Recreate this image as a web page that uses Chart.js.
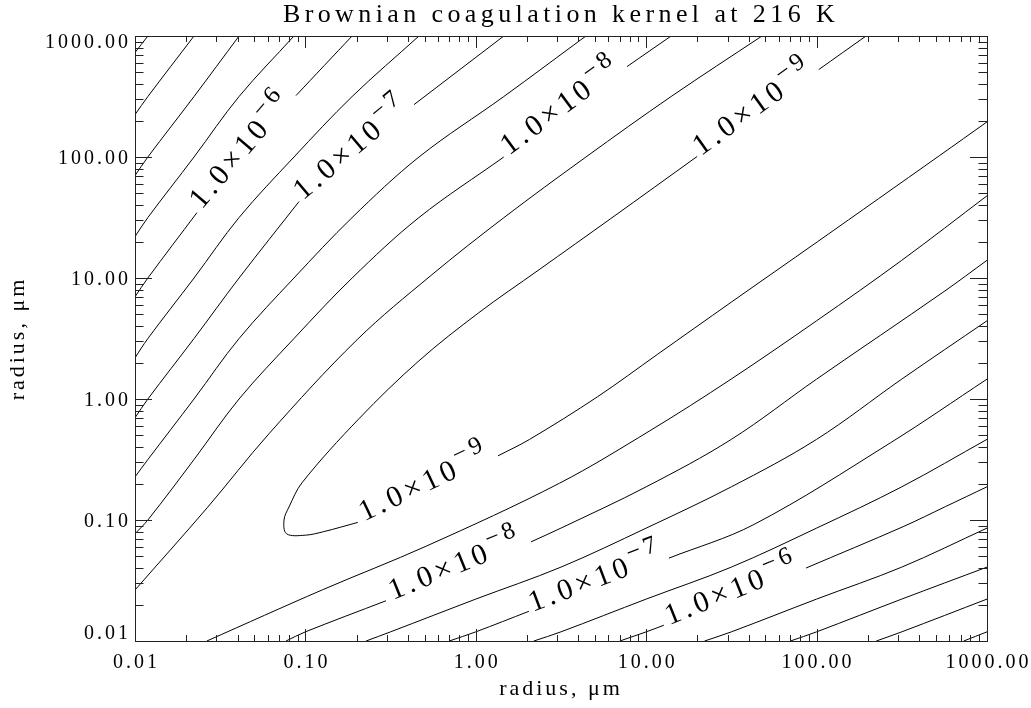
<!DOCTYPE html>
<html>
<head>
<meta charset="utf-8">
<title>Brownian coagulation kernel</title>
<script src="https://cdn.jsdelivr.net/npm/chart.js@4.4.1/dist/chart.umd.min.js"></script>
<style>
  html, body { margin: 0; padding: 0; background: #fff; }
  canvas { display: block; }
</style>
</head>
<body>
<canvas id="kernel-chart" width="1031" height="708"></canvas>
<script>
// radius ticks, same on both axes (µm)
const tickValues = [0.01, 0.1, 1, 10, 100, 1000];

// contours above the diagonal: [radius 1, radius 2] in µm, corner first
// null marks the break where the level label sits
const upper1 = [[0.01, 730], [0.0119, 1000]];
const upper2 = [[0.01, 224], [0.0119, 316], [0.0222, 1000]];
const upper3 = [[0.01, 70.2], [0.0119, 100], [0.0222, 316], [0.0408, 1000]];
const upper4 = [[0.01, 22.0], [0.0119, 31.6], [0.0222, 100], [0.0408, 316], [0.0857, 1000]];
const upper5 = [[0.01, 7.0], [0.0119, 10], [0.0231, 34.7], null, [0.0881, 322], [0.129, 570], [0.188, 1000]];
const upper6 = [[0.01, 2.19], [0.0119, 3.16], [0.0222, 10], [0.0408, 31.6], [0.0857, 100], [0.188, 316], [0.464, 1000]];
const upper7 = [[0.01, 0.699], [0.0119, 1.0], [0.0222, 3.16], [0.0408, 10], [0.0917, 42.8], null, [0.434, 271], [1.46, 1000]];
const upper8 = [[0.01, 0.227], [0.0119, 0.316], [0.0222, 1.0], [0.0408, 3.16], [0.0857, 10], [0.188, 31.6], [0.464, 100], [1.46, 316], [4.43, 1000]];
const upper9 = [[0.01, 0.077], [0.0119, 0.1], [0.0222, 0.316], [0.0408, 1.0], [0.0857, 3.16], [0.188, 10], [0.464, 31.6], [1.46, 100], null, [7.72, 559], [14.0, 1000]];
const upper10 = [[0.01, 0.0264], [0.0265, 0.126], [0.0611, 0.516], [0.201, 3.09], [0.546, 10.5], [1.46, 31.5], [4.43, 100], [14.0, 316], [47.8, 1000]];

// contours below the diagonal
const lower1 = [[730, 0.01], [1000, 0.0119]];
const lower2 = [[224, 0.01], [316, 0.0119], [1000, 0.0222]];
const lower3 = [[70.2, 0.01], [100, 0.0119], [316, 0.0222], [1000, 0.0408]];
const lower4 = [[22.0, 0.01], [31.6, 0.0119], [100, 0.0222], [316, 0.0408], [1000, 0.0857]];
const lower5 = [[7.0, 0.01], [10, 0.0119], [12.7, 0.0135], null, [86.7, 0.0401], [322, 0.0881], [570, 0.129], [1000, 0.188]];
const lower6 = [[2.19, 0.01], [3.16, 0.0119], [10, 0.0222], [31.6, 0.0408], [100, 0.0857], [316, 0.188], [1000, 0.464]];
const lower7 = [[0.699, 0.01], [1.0, 0.0119], [2.05, 0.0176], null, [13.6, 0.0484], [42.8, 0.0917], [271, 0.434], [1000, 1.46]];
const lower8 = [[0.227, 0.01], [0.316, 0.0119], [1.0, 0.0222], [3.16, 0.0408], [10, 0.0857], [31.6, 0.188], [100, 0.464], [316, 1.46], [1000, 4.43]];
const lower9 = [[0.077, 0.01], [0.1, 0.0119], [0.297, 0.0215], null, [2.11, 0.066], [3.16, 0.0857], [10, 0.188], [31.6, 0.464], [100, 1.46], [559, 7.72], [1000, 14.0]];
const lower10 = [[0.0264, 0.01], [0.126, 0.0265], [0.516, 0.0611], [3.09, 0.201], [10.5, 0.546], [31.5, 1.46], [100, 4.43], [316, 14.0], [1000, 47.8]];

// the lowest level closes round the diagonal near 0.08 µm
const ring9 = [[195, 1000], [103, 528], null, [19.9, 101], [6.30, 31.5], [2.35, 11.7], [1.04, 5.16],
  [0.464, 2.07], [0.206, 0.686], [0.0955, 0.203], [0.0801, 0.128], [0.0749, 0.100], [0.0775, 0.0770],
  [0.100, 0.0749], [0.128, 0.0801], [0.203, 0.0955], null, [1.35, 0.339], [2.07, 0.464], [5.16, 1.04],
  [11.7, 2.35], [31.5, 6.30], [101, 19.9], [528, 103], [1000, 195]];

// which contours carry a label, and the exponent printed on them
const labelled = [
  [upper5, '6'], [upper7, '7'], [upper9, '8'],
  [lower5, '6'], [lower7, '7'], [lower9, '8'],
  [ring9, '9']
];
const plain = [upper1, upper2, upper3, upper4, upper6, upper8, upper10,
  lower1, lower2, lower3, lower4, lower6, lower8, lower10];

const serif = 'Liberation Serif';
const datasets = [];
const labels = [];

function addContour(line, exp) {
  const segs = [[]];
  line.forEach(p => {
    if (p) segs[segs.length - 1].push({ x: p[0], y: p[1] });
    else segs.push([]);
  });
  segs.forEach(s => datasets.push({
    data: s,
    showLine: true,
    borderColor: '#000',
    borderWidth: 1,
    pointRadius: 0,
    tension: 0.35
  }));
  if (exp) {
    for (let i = 0; i < segs.length - 1; i++) {
      labels.push({ from: segs[i][segs[i].length - 1], to: segs[i + 1][0], exp: exp });
    }
  }
}

plain.forEach(l => addContour(l));
labelled.forEach(([l, e]) => addContour(l, e));

function fmt(v) {
  return Number(v).toFixed(2);
}

// box, inward tick marks, tick labels, contour labels and the title
const decorations = {
  id: 'decorations',
  afterInit(chart) {
    chart.ctx.letterSpacing = '3px';
  },
  afterDatasetsDraw(chart) {
    const { ctx, chartArea: a, scales } = chart;
    const xs = scales.x, ys = scales.y;
    ctx.save();
    ctx.strokeStyle = '#222';
    ctx.lineWidth = 1;
    ctx.strokeRect(a.left + 0.5, a.top + 0.5, a.right - a.left, a.bottom - a.top);

    ctx.beginPath();
    tickValues.forEach(t => {
      for (let s = 1; s < 10; s++) {
        const v = t * s;
        if (v > tickValues[tickValues.length - 1] * 1.0001) break;
        const major = s === 1;
        const px = Math.round(xs.getPixelForValue(v)) + 0.5;
        const py = Math.round(ys.getPixelForValue(v)) + 0.5;
        const lx = major ? 12 : 6;
        const ly = major ? 17 : 8.5;
        ctx.moveTo(px, a.bottom); ctx.lineTo(px, a.bottom - lx);
        ctx.moveTo(px, a.top); ctx.lineTo(px, a.top + lx);
        ctx.moveTo(a.left, py); ctx.lineTo(a.left + ly, py);
        ctx.moveTo(a.right, py); ctx.lineTo(a.right - ly, py);
      }
    });
    ctx.stroke();

    // tick labels: bottom ones centred, left ones kept inside the axis span
    ctx.fillStyle = '#000';
    ctx.letterSpacing = '3px';
    ctx.font = '20px "' + serif + '"';
    ctx.textBaseline = 'middle';
    ctx.textAlign = 'center';
    tickValues.forEach(v => {
      ctx.fillText(fmt(v), xs.getPixelForValue(v) + 1.5, a.bottom + 22);
    });
    ctx.textAlign = 'right';
    tickValues.forEach(v => {
      const py = Math.min(Math.max(ys.getPixelForValue(v) + 2, a.top + 7), a.bottom - 7);
      ctx.fillText(fmt(v), a.left - 4, py);
    });

    labels.forEach(lb => {
      const x0 = xs.getPixelForValue(lb.from.x), y0 = ys.getPixelForValue(lb.from.y);
      const x1 = xs.getPixelForValue(lb.to.x), y1 = ys.getPixelForValue(lb.to.y);
      let ang = Math.atan2(y1 - y0, x1 - x0);
      if (Math.cos(ang) < 0) ang += Math.PI;
      ctx.save();
      ctx.translate((x0 + x1) / 2, (y0 + y1) / 2);
      ctx.rotate(ang);
      ctx.letterSpacing = '4px';
      ctx.textBaseline = 'alphabetic';
      ctx.textAlign = 'left';
      const main = '1.0\u00d710';
      const sup = '\u2212' + lb.exp;
      ctx.font = '30px "' + serif + '"';
      const w1 = ctx.measureText(main).width;
      ctx.font = '25px "' + serif + '"';
      const w2 = ctx.measureText(sup).width;
      const start = -(w1 + w2) / 2;
      ctx.font = '30px "' + serif + '"';
      ctx.fillText(main, start, 2);
      ctx.font = '25px "' + serif + '"';
      ctx.fillText(sup, start + w1, -11);
      ctx.restore();
    });

    ctx.letterSpacing = '4.4px';
    ctx.font = '26px "' + serif + '"';
    ctx.textAlign = 'center';
    ctx.textBaseline = 'middle';
    ctx.fillText('Brownian coagulation kernel at 216 K', (a.left + a.right) / 2, 15);
    ctx.restore();
  }
};

const titleFont = { family: serif, size: 22 };

new Chart(document.getElementById('kernel-chart'), {
  type: 'scatter',
  data: { datasets: datasets },
  options: {
    responsive: false,
    animation: false,
    events: [],
    layout: { padding: { top: 36, right: 44, left: 0, bottom: 0 } },
    plugins: {
      legend: { display: false },
      title: { display: false },
      tooltip: { enabled: false }
    },
    scales: {
      x: {
        type: 'logarithmic',
        min: tickValues[0],
        max: tickValues[tickValues.length - 1],
        afterBuildTicks: s => { s.ticks = tickValues.map(v => ({ value: v })); },
        afterFit: s => { s.height = 67; s.paddingLeft = 0; s.paddingRight = 0; },
        grid: { display: false, drawTicks: false },
        border: { display: false },
        ticks: { display: false },
        title: { display: true, text: 'radius, \u03bcm', color: '#000', font: titleFont, padding: { top: 0, bottom: 6 } }
      },
      y: {
        type: 'logarithmic',
        min: tickValues[0],
        max: tickValues[tickValues.length - 1],
        afterBuildTicks: s => { s.ticks = tickValues.map(v => ({ value: v })); },
        afterFit: s => { s.width = 135; s.paddingTop = 0; s.paddingBottom = 0; },
        grid: { display: false, drawTicks: false },
        border: { display: false },
        ticks: { display: false },
        title: { display: true, text: 'radius, \u03bcm', color: '#000', font: titleFont, padding: { top: 5, bottom: 0 } }
      }
    }
  },
  plugins: [decorations]
});
</script>
</body>
</html>
